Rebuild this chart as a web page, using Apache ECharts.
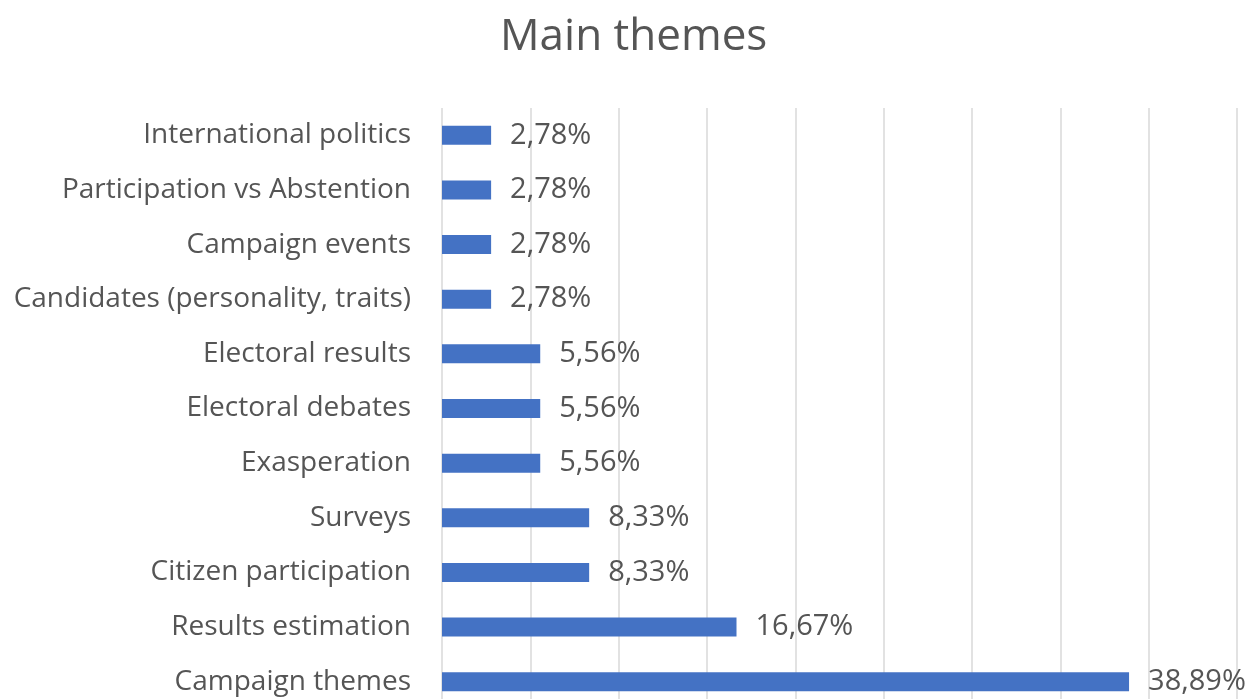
<!DOCTYPE html>
<html>
<head>
<meta charset="utf-8">
<script src="https://cdn.jsdelivr.net/npm/echarts@6/dist/echarts.min.js"></script>
<style>
  html, body { margin: 0; padding: 0; background: #ffffff; overflow: hidden; }
  #chart { width: 1250px; height: 730px; }
</style>
</head>
<body>
<div id="chart"></div>
<script>
// Themes, listed top to bottom
const categories = [
  'International politics',
  'Participation vs Abstention',
  'Campaign events',
  'Candidates (personality, traits)',
  'Electoral results',
  'Electoral debates',
  'Exasperation',
  'Surveys',
  'Citizen participation',
  'Results estimation',
  'Campaign themes'
];
// Share of each theme, in percent
const shares = [2.78, 2.78, 2.78, 2.78, 5.56, 5.56, 5.56, 8.33, 8.33, 16.67, 38.89];
// Value axis range and step, in percent
const axisMin = 0;
const axisMax = 45;
const axisStep = 5;

const font = '"Open Sans", sans-serif';
const chart = echarts.init(document.getElementById('chart'));
chart.setOption({
  animation: false,
  backgroundColor: '#ffffff',
  title: {
    text: 'Main themes',
    left: 495,
    top: 10,
    textStyle: { fontFamily: font, fontSize: 44, fontWeight: 'normal', color: '#555555' }
  },
  grid: { left: 442, right: 13, top: 108, height: 601, containLabel: false },
  xAxis: {
    type: 'value',
    min: axisMin,
    max: axisMax,
    interval: axisStep,
    axisLabel: { show: false },
    axisLine: { show: false },
    axisTick: { show: false },
    splitLine: { show: true, lineStyle: { color: '#d9d9d9', width: 1.5 } }
  },
  yAxis: {
    type: 'category',
    data: categories,
    inverse: true,
    axisLine: { show: false },
    axisTick: { show: false },
    axisLabel: { fontFamily: font, fontSize: 28, color: '#555555', margin: 31 }
  },
  series: [{
    type: 'bar',
    data: shares,
    barWidth: 19,
    itemStyle: { color: '#4472c4' },
    label: {
      show: true,
      position: 'right',
      distance: 19,
      fontFamily: font,
      fontSize: 29,
      color: '#555555',
      formatter: p => p.value.toFixed(2).replace('.', ',') + '%'
    }
  }]
});
</script>
</body>
</html>
